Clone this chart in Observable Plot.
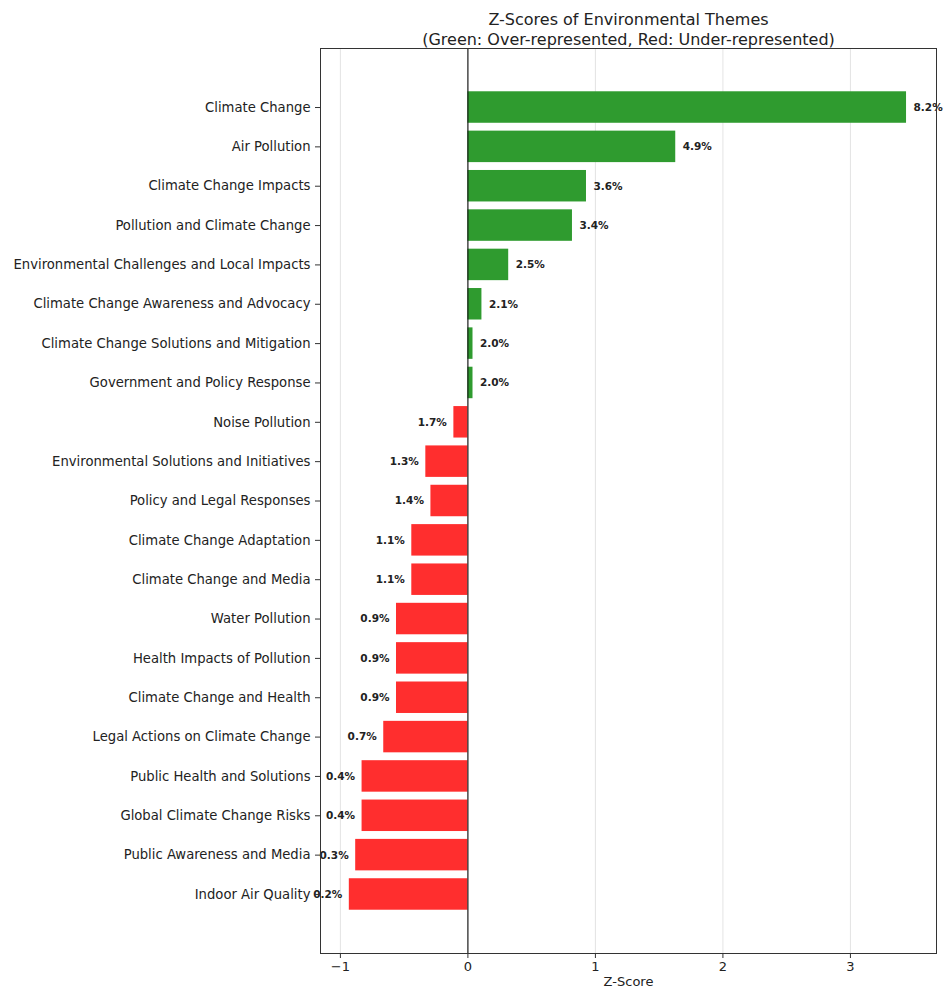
<!DOCTYPE html>
<html>
<head>
<meta charset="utf-8">
<script src="https://cdn.jsdelivr.net/npm/d3@7"></script>
<script src="https://cdn.jsdelivr.net/npm/@observablehq/plot@0.6"></script>
<style>
  html, body { margin: 0; padding: 0; background: #fff; }
  #chart svg { display: block; }
</style>
</head>
<body>
<div id="chart"></div>
<script>
const themes = [
  "Climate Change",
  "Air Pollution",
  "Climate Change Impacts",
  "Pollution and Climate Change",
  "Environmental Challenges and Local Impacts",
  "Climate Change Awareness and Advocacy",
  "Climate Change Solutions and Mitigation",
  "Government and Policy Response",
  "Noise Pollution",
  "Environmental Solutions and Initiatives",
  "Policy and Legal Responses",
  "Climate Change Adaptation",
  "Climate Change and Media",
  "Water Pollution",
  "Health Impacts of Pollution",
  "Climate Change and Health",
  "Legal Actions on Climate Change",
  "Public Health and Solutions",
  "Global Climate Change Risks",
  "Public Awareness and Media",
  "Indoor Air Quality"
];
const zScores = [3.44, 1.63, 0.93, 0.82, 0.32, 0.11, 0.04, 0.04, -0.11, -0.33, -0.29,
  -0.44, -0.44, -0.56, -0.56, -0.56, -0.66, -0.83, -0.83, -0.88, -0.93];
const percents = ["8.2%", "4.9%", "3.6%", "3.4%", "2.5%", "2.1%", "2.0%", "2.0%", "1.7%", "1.3%", "1.4%",
  "1.1%", "1.1%", "0.9%", "0.9%", "0.9%", "0.7%", "0.4%", "0.4%", "0.3%", "0.2%"];
const xTicks = [-1, 0, 1, 2, 3];
const titleLines = ["Z-Scores of Environmental Themes", "(Green: Over-represented, Red: Under-represented)"];
const xLabel = "Z-Score";

const data = themes.map((t, i) => ({theme: t, z: zScores[i], pct: percents[i]}));
const GREEN = "#2f9b2f", RED = "#ff2e2e";
const font = "DejaVu Sans, sans-serif";

const chart = Plot.plot({
  width: 946,
  height: 989,
  marginLeft: 320,
  marginRight: 10,
  marginTop: 48,
  marginBottom: 36,
  style: {fontFamily: font, fontSize: "13px", color: "#222", background: "#fff"},
  x: {domain: [-1.156, 3.675], ticks: xTicks, label: null},
  y: {domain: themes, paddingInner: 0.2, paddingOuter: 1.1, round: false, label: null},
  marks: [
    Plot.ruleX(xTicks, {stroke: "#b0b0b0", strokeOpacity: 0.35, strokeWidth: 1}),
    Plot.barX(data, {x: "z", y: "theme", fill: d => d.z >= 0 ? GREEN : RED}),
    Plot.ruleX([0], {stroke: "#111", strokeWidth: 1.1}),
    Plot.text(data.filter(d => d.z >= 0), {x: "z", y: "theme", text: "pct", dx: 7, textAnchor: "start",
      fontWeight: "bold", fontSize: 10.5, fill: "#222"}),
    Plot.text(data.filter(d => d.z < 0), {x: "z", y: "theme", text: "pct", dx: -7, textAnchor: "end",
      fontWeight: "bold", fontSize: 10.5, fill: "#222"}),
    Plot.frame({stroke: "#333", strokeWidth: 1}),
    Plot.axisY({tickSize: 5, tickPadding: 5, fontSize: 13.2, stroke: "#333"}),
    Plot.axisX({ticks: xTicks, tickSize: 5, tickPadding: 3, fontSize: 13, stroke: "#333", label: null, tickFormat: d => d < 0 ? "\u2212" + Math.abs(d) : String(d)}),
    Plot.text([xLabel], {frameAnchor: "bottom", dy: 32, fontSize: 13, fill: "#222"}),
    Plot.text([titleLines[0]], {frameAnchor: "top", dy: -35, fontSize: 16, fill: "#222"}),
    Plot.text([titleLines[1]], {frameAnchor: "top", dy: -15, fontSize: 16, fill: "#222"})
  ]
});
document.getElementById("chart").appendChild(chart);
</script>
</body>
</html>
